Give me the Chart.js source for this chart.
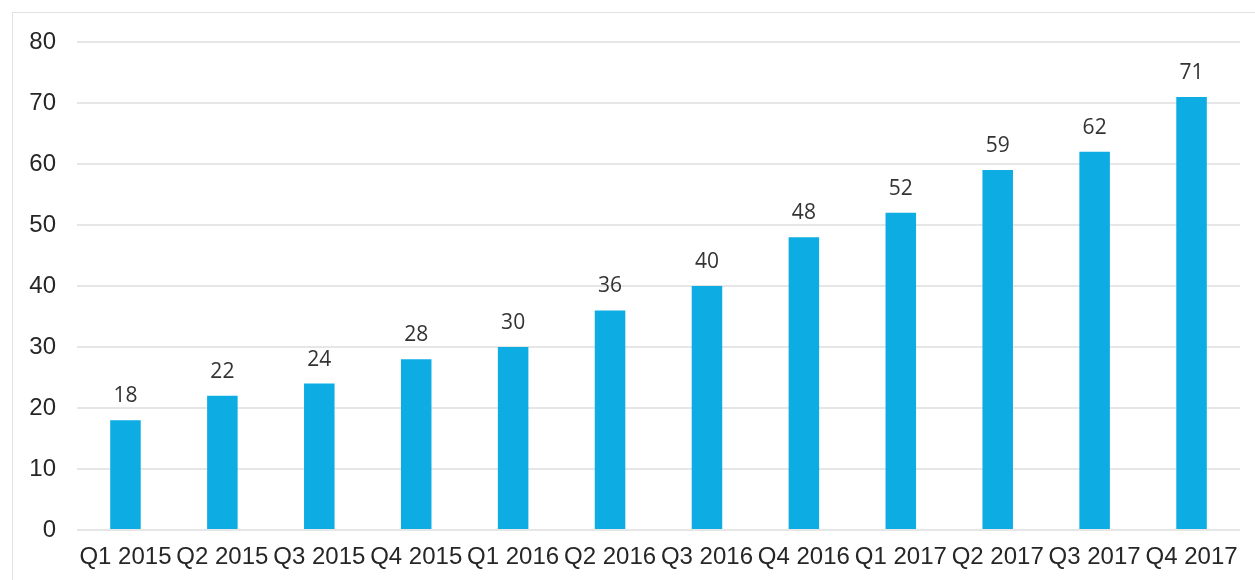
<!DOCTYPE html>
<html>
<head>
<meta charset="utf-8">
<script src="https://cdn.jsdelivr.net/npm/chart.js@4"></script>
<style>
    html, body { margin: 0; padding: 0; background: #fff; overflow: hidden; }
    #wrap { position: relative; width: 1255px; height: 580px; }
    #frame { position: absolute; left: 12px; top: 12px; width: 1300px; height: 620px; border: 1.5px solid #e2e2e2; }
    #chart { position: absolute; left: 0; top: 0; }
</style>
</head>
<body>
<div id="wrap">
    <div id="frame"></div>
    <canvas id="chart" width="1255" height="580"></canvas>
</div>
<script>
const quarters = ['Q1 2015', 'Q2 2015', 'Q3 2015', 'Q4 2015', 'Q1 2016', 'Q2 2016',
                  'Q3 2016', 'Q4 2016', 'Q1 2017', 'Q2 2017', 'Q3 2017', 'Q4 2017'];
const values = [18, 22, 24, 28, 30, 36, 40, 48, 52, 59, 62, 71];
const yMin = 0, yMax = 80, yStep = 10;

// draws the number above each bar
const barLabels = {
    id: 'barLabels',
    afterDatasetsDraw(chart) {
        const ctx = chart.ctx;
        const meta = chart.getDatasetMeta(0);
        ctx.save();
        ctx.font = '21px "Open Sans"';
        ctx.fillStyle = '#333333';
        ctx.textAlign = 'center';
        ctx.textBaseline = 'alphabetic';
        meta.data.forEach((bar, i) => {
            ctx.fillText(String(values[i]), bar.x, bar.y - 18);
        });
        ctx.restore();
    }
};

const ctx = document.getElementById('chart').getContext('2d');
new Chart(ctx, {
    type: 'bar',
    data: {
        labels: quarters,
        datasets: [{
            data: values,
            backgroundColor: '#0DADE4',
            borderWidth: 0,
            barPercentage: 0.315,
            categoryPercentage: 1
        }]
    },
    options: {
        responsive: false,
        animation: false,
        layout: { padding: { left: 13, right: 15, top: 42, bottom: 0 } },
        plugins: {
            legend: { display: false },
            tooltip: { enabled: false }
        },
        scales: {
            x: {
                afterFit(scale) { scale.height = 50; },
                grid: { display: false, drawTicks: false },
                border: { display: false },
                ticks: {
                    autoSkip: false,
                    maxRotation: 0,
                    padding: 13,
                    color: '#262626',
                    font: { family: '"Liberation Sans", Arial', size: 24 }
                }
            },
            y: {
                min: yMin,
                max: yMax,
                afterFit(scale) { scale.width = 64; },
                grid: { color: '#e6e6e6', lineWidth: 2, drawTicks: false },
                border: { display: false },
                ticks: {
                    stepSize: yStep,
                    padding: 21,
                    color: '#262626',
                    font: { family: '"Liberation Sans", Arial', size: 24 }
                }
            }
        }
    },
    plugins: [barLabels]
});
</script>
</body>
</html>
